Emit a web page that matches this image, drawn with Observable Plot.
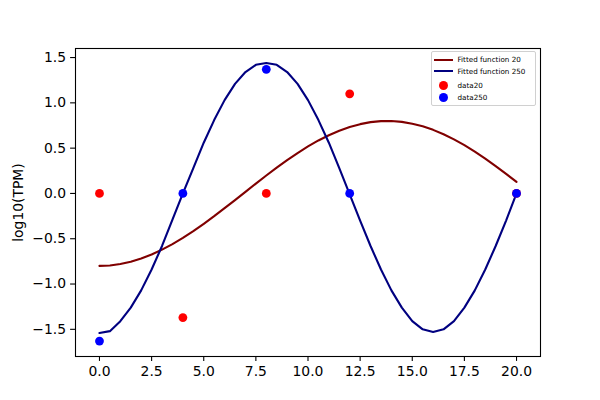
<!DOCTYPE html>
<html>
<head>
<meta charset="utf-8">
<script src="https://cdn.jsdelivr.net/npm/d3@7"></script>
<script src="https://cdn.jsdelivr.net/npm/@observablehq/plot@0.6"></script>
<style>
  body { margin: 0; background: #fff; }
  #wrap { position: relative; width: 600px; height: 400px; font-family: "DejaVu Sans", sans-serif; }
  #legend { position: absolute; left: 431px; top: 51px; width: 105px; height: 55px;
            border: 1px solid #d0d0d0; border-radius: 2px; background: rgba(255,255,255,0.8);
            box-sizing: border-box; }
  .row { position: absolute; left: 0; height: 0; font-size: 7.2px; color: #000; white-space: nowrap; }
  .sw-line { position: absolute; left: 2px; width: 19px; height: 2px; top: -1px; }
  .sw-dot { position: absolute; left: 6.5px; width: 9px; height: 9px; top: -4.5px; border-radius: 50%; }
  .lab { position: absolute; left: 25.5px; top: -4.8px; line-height: 9px; }
</style>
</head>
<body>
<div id="wrap"><div id="chart"></div>
  <div id="legend"></div>
</div>
<script>
// ---- data ----
const xFit = [0,0.5,1,1.5,2,2.5,3,3.5,4,4.5,5,5.5,6,6.5,7,7.5,8,8.5,9,9.5,10,
              10.5,11,11.5,12,12.5,13,13.5,14,14.5,15,15.5,16,16.5,17,17.5,18,18.5,19,19.5,20];
const fit20 = [-0.80,-0.795,-0.779,-0.754,-0.718,-0.674,-0.620,-0.559,-0.491,-0.416,-0.335,
               -0.251,-0.163,-0.073,0.018,0.109,0.198,0.285,0.368,0.446,0.519,
               0.585,0.643,0.693,0.734,0.765,0.787,0.798,0.799,0.790,0.770,
               0.741,0.702,0.654,0.597,0.533,0.462,0.384,0.302,0.216,0.127];
const fit250 = [-1.54,-1.52,-1.41,-1.26,-1.07,-0.84,-0.58,-0.29,0.00,0.28,0.56,
                0.81,1.03,1.21,1.34,1.42,1.44,1.42,1.34,1.21,1.03,
                0.81,0.56,0.28,-0.01,-0.30,-0.58,-0.84,-1.07,-1.26,-1.41,
                -1.50,-1.53,-1.50,-1.41,-1.26,-1.07,-0.84,-0.58,-0.30,0.00];
const dataX = [0, 4, 8, 12, 20];
const data20 = [0, -1.37, 0, 1.10, 0];
const data250 = [-1.63, 0, 1.37, 0, 0];
const xTicks = [0, 2.5, 5, 7.5, 10, 12.5, 15, 17.5, 20];
const yTicks = [-1.5, -1.0, -0.5, 0.0, 0.5, 1.0, 1.5];
const seriesNames = ["Fitted function 20", "Fitted function 250", "data20", "data250"];
const seriesColors = ["#800000", "#000080", "#ff0000", "#0000ff"];

// ---- tables built from the arrays ----
const curve20 = xFit.map((x, i) => ({x, y: fit20[i]}));
const curve250 = xFit.map((x, i) => ({x, y: fit250[i]}));
const pts20 = dataX.map((x, i) => ({x, y: data20[i]}));
const pts250 = dataX.map((x, i) => ({x, y: data250[i]}));
const fmt = d => d.toFixed(1).replace("-", "\u2212");

const chart = Plot.plot({
  width: 600, height: 400,
  marginLeft: 75, marginRight: 60, marginTop: 48, marginBottom: 44,
  style: { fontFamily: "DejaVu Sans", fontSize: "13.9px", color: "#000", background: "#fff" },
  x: { domain: [-1.15, 21.15] },
  y: { domain: [-1.80, 1.60] },
  marks: [
    Plot.axisX({ ticks: xTicks, tickFormat: fmt, tickSize: 4.9, tickPadding: 4.5, label: null, strokeWidth: 1.1 }),
    Plot.axisY({ ticks: yTicks, tickFormat: fmt, tickSize: 4.9, tickPadding: 4.5, label: "log10(TPM)",
                 labelAnchor: "center", labelArrow: "none", labelOffset: 62, strokeWidth: 1.1 }),
    Plot.line(curve20, { x: "x", y: "y", stroke: seriesColors[0], strokeWidth: 2.1 }),
    Plot.line(curve250, { x: "x", y: "y", stroke: seriesColors[1], strokeWidth: 2.1 }),
    Plot.dot(pts20, { x: "x", y: "y", r: 4.4, fill: seriesColors[2] }),
    Plot.dot(pts250, { x: "x", y: "y", r: 4.4, fill: seriesColors[3] }),
    Plot.frame({ stroke: "#000", strokeWidth: 1.1 })
  ]
});
document.getElementById("chart").appendChild(chart);

// ---- legend ----
const legend = document.getElementById("legend");
const rowTops = [7.5, 19.3, 33.8, 45.6];
seriesNames.forEach((name, i) => {
  const row = document.createElement("div");
  row.className = "row";
  row.style.top = rowTops[i] + "px";
  const sw = document.createElement("div");
  sw.className = i < 2 ? "sw-line" : "sw-dot";
  sw.style.background = seriesColors[i];
  const lab = document.createElement("span");
  lab.className = "lab";
  lab.textContent = name;
  row.appendChild(sw); row.appendChild(lab);
  legend.appendChild(row);
});
</script>
</body>
</html>
